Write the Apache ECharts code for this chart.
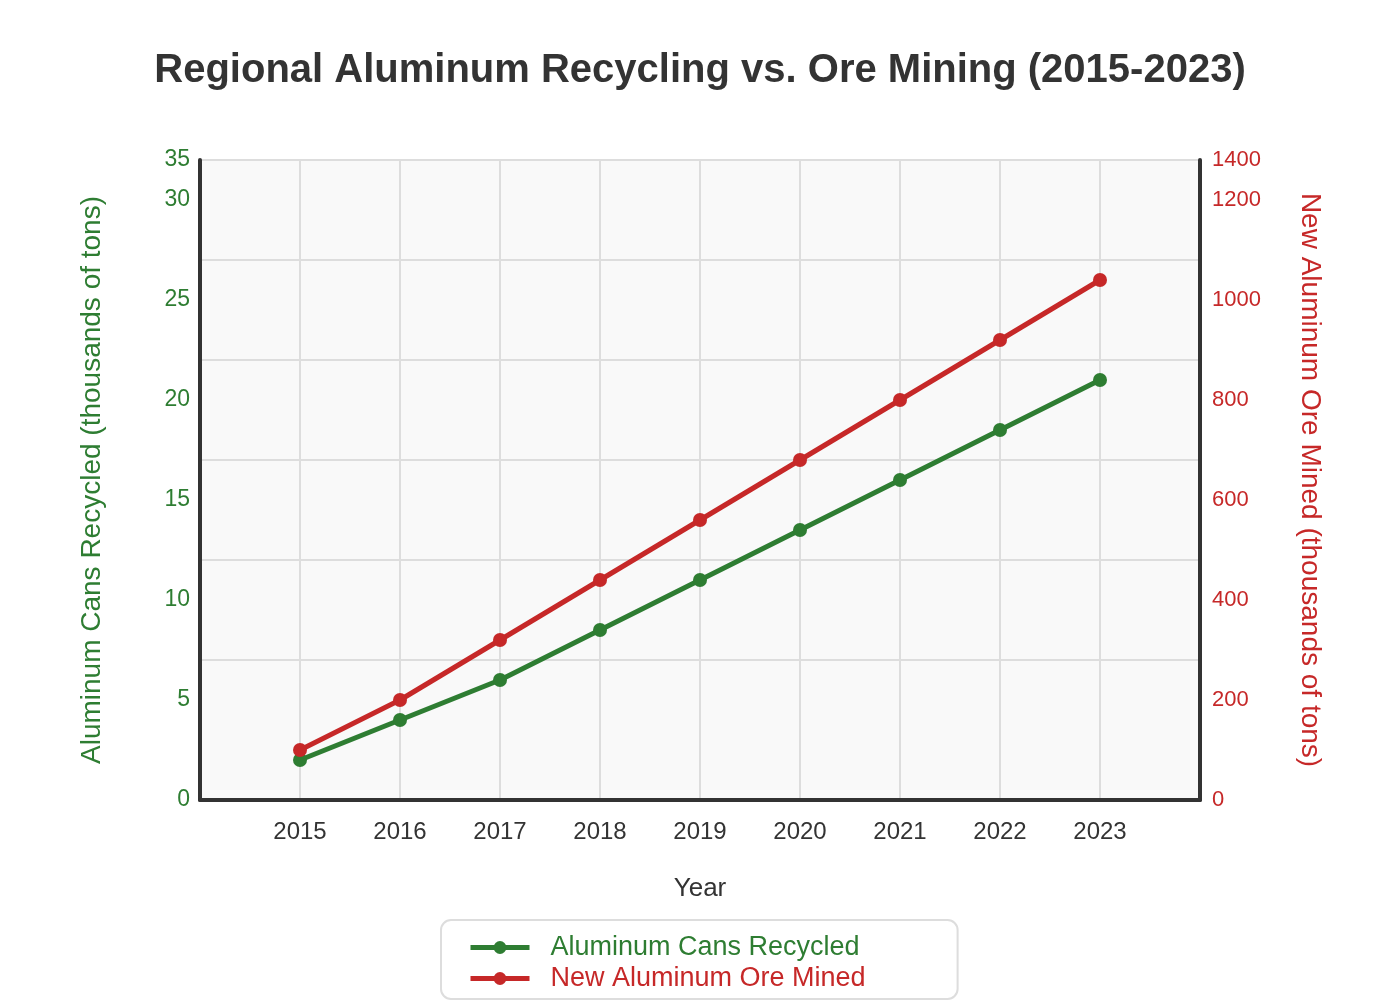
<!DOCTYPE html>
<html>
<head>
<meta charset="utf-8">
<title>Regional Aluminum Recycling vs. Ore Mining</title>
<script src="https://cdn.jsdelivr.net/npm/echarts@6/dist/echarts.min.js"></script>
<style>
  html, body { margin: 0; padding: 0; background: #fff; }
  #main { width: 1400px; height: 1000px; }
</style>
</head>
<body>
<div id="main"></div>
<script>
// data
var years = [2015, 2016, 2017, 2018, 2019, 2020, 2021, 2022, 2023];
var cansRecycled = [2, 4, 6, 8.5, 11, 13.5, 16, 18.5, 21];
var oreMined = [100, 200, 320, 440, 560, 680, 800, 920, 1040];

// axis ticks as shown
var leftTicks = [0, 5, 10, 15, 20, 25, 30, 35];
var rightTicks = [0, 200, 400, 600, 800, 1000, 1200, 1400];
var leftMax = 32;
var rightMax = 1280;
var gridLevels = [7, 12, 17, 22, 27];

var GREEN = '#2e7d32';
var RED = '#c62828';
var FONT = '"Liberation Sans", Arial, sans-serif';

function clampTicks(ticks, max) {
  return ticks.map(function (t) { return Math.min(t, max); });
}
function tickText(ticks, max) {
  return function (v) {
    for (var i = 0; i < ticks.length; i++) {
      if (Math.min(ticks[i], max) === v) return String(ticks[i]);
    }
    return String(v);
  };
}

var chart = echarts.init(document.getElementById('main'));

var option = {
  backgroundColor: '#ffffff',
  animation: false,
  textStyle: { fontFamily: FONT },
  title: {
    text: 'Regional Aluminum Recycling vs. Ore Mining (2015-2023)',
    left: 'center',
    top: 46,
    textStyle: { fontFamily: FONT, fontSize: 40, fontWeight: 'bold', color: '#333' }
  },
  legend: {
    orient: 'vertical',
    left: 441,
    top: 920,
    padding: [14, 92, 7, 27],
    itemGap: 4,
    itemWidth: 59,
    itemHeight: 16,
    borderColor: '#dddddd',
    borderWidth: 2,
    borderRadius: 10,
    backgroundColor: '#ffffff',
    lineStyle: { width: 5 },
    textStyle: { fontFamily: FONT, fontSize: 27, padding: [0, 0, 0, 16] },
    data: [
      { name: 'Aluminum Cans Recycled', textStyle: { color: GREEN } },
      { name: 'New Aluminum Ore Mined', textStyle: { color: RED } }
    ]
  },
  grid: {
    left: 200,
    right: 200,
    top: 160,
    bottom: 200,
    show: true,
    backgroundColor: '#f9f9f9',
    borderColor: '#dddddd',
    borderWidth: 2
  },
  xAxis: {
    type: 'value',
    min: 2014,
    max: 2024,
    interval: 1,
    name: 'Year',
    nameLocation: 'middle',
    nameGap: 76,
    nameTextStyle: { fontFamily: FONT, fontSize: 26, color: '#333' },
    axisLine: { show: true, onZero: false, lineStyle: { color: '#333', width: 4 } },
    axisTick: { show: false },
    axisLabel: {
      showMinLabel: false,
      showMaxLabel: false,
      margin: 20,
      fontSize: 24,
      color: '#333',
      fontFamily: FONT,
      formatter: function (v) { return String(v); }
    },
    splitLine: { show: true, lineStyle: { color: '#dddddd', width: 2 } }
  },
  yAxis: [
    {
      type: 'value',
      position: 'left',
      min: 0,
      max: leftMax,
      name: 'Aluminum Cans Recycled (thousands of tons)',
      nameLocation: 'middle',
      nameRotate: 90,
      nameGap: 94,
      nameTextStyle: { fontFamily: FONT, fontSize: 28, color: GREEN },
      axisLine: { show: true, lineStyle: { color: '#333', width: 4 } },
      axisTick: { show: false, customValues: gridLevels },
      axisLabel: {
        customValues: clampTicks(leftTicks, leftMax),
        formatter: tickText(leftTicks, leftMax),
        margin: 10,
        fontSize: 23,
        color: GREEN,
        fontFamily: FONT
      },
      splitLine: { show: true, lineStyle: { color: '#dddddd', width: 2 } }
    },
    {
      type: 'value',
      position: 'right',
      min: 0,
      max: rightMax,
      name: 'New Aluminum Ore Mined (thousands of tons)',
      nameLocation: 'middle',
      nameRotate: -90,
      nameGap: 96,
      nameTextStyle: { fontFamily: FONT, fontSize: 28, color: RED },
      axisLine: { show: true, lineStyle: { color: '#333', width: 4 } },
      axisTick: { show: false },
      axisLabel: {
        customValues: clampTicks(rightTicks, rightMax),
        formatter: tickText(rightTicks, rightMax),
        margin: 12,
        fontSize: 22,
        color: RED,
        fontFamily: FONT
      },
      splitLine: { show: false }
    }
  ],
  series: [
    {
      name: 'Aluminum Cans Recycled',
      type: 'line',
      yAxisIndex: 0,
      data: years.map(function (y, i) { return [y, cansRecycled[i]]; }),
      symbol: 'circle',
      symbolSize: 14,
      lineStyle: { color: GREEN, width: 5 },
      itemStyle: { color: GREEN },
      z: 3
    },
    {
      name: 'New Aluminum Ore Mined',
      type: 'line',
      yAxisIndex: 1,
      data: years.map(function (y, i) { return [y, oreMined[i]]; }),
      symbol: 'circle',
      symbolSize: 14,
      lineStyle: { color: RED, width: 5 },
      itemStyle: { color: RED },
      z: 3
    }
  ]
};

chart.setOption(option);
</script>
</body>
</html>
